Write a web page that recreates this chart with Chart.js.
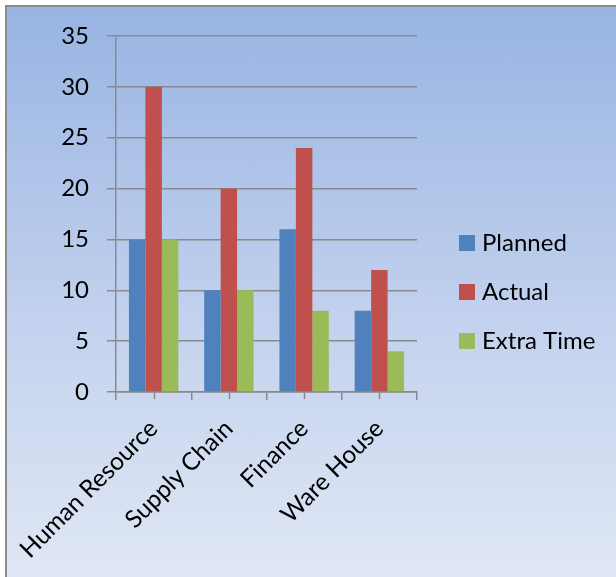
<!DOCTYPE html>
<html>
<head>
<meta charset="utf-8">
<script src="https://cdn.jsdelivr.net/npm/chart.js@4"></script>
<style>
  html, body { margin: 0; padding: 0; width: 616px; height: 577px; overflow: hidden; }
  #bg { position: absolute; left: 5px; top: 5px; width: 620px; height: 580px;
        border-left: 2px solid #8c8c8c; border-top: 2px solid #8c8c8c;
        background: linear-gradient(to bottom, #98B4E3 0%, #C3D2EE 55%, #E1E8F5 100%); }
  #wrap { position: absolute; left: 0; top: 0; width: 616px; height: 577px; }
</style>
</head>
<body>
<div id="bg"></div>
<div id="wrap"><canvas id="c" width="616" height="577"></canvas></div>
<script>
const categories = ["Human Resource", "Supply Chain", "Finance", "Ware House"];
const planned = [15, 10, 16, 8];
const actual = [30, 20, 24, 12];
const extraTime = [15, 10, 8, 4];
const seriesNames = ["Planned", "Actual", "Extra Time"];
const seriesColors = ["#4F81BD", "#C0504D", "#9BBB59"];

const FONT = "Lato";
const gridColor = "#8a8a8a";

const centerTicks = {
  id: "centerTicks",
  afterDraw(chart) {
    const x = chart.scales.x, ctx = chart.ctx;
    const y0 = chart.chartArea.bottom;
    ctx.save();
    ctx.strokeStyle = gridColor;
    ctx.lineWidth = 1.5;
    for (let i = 0; i < categories.length; i++) {
      const px = Math.round(x.getPixelForValue(i)) + 0.5;
      ctx.beginPath();
      ctx.moveTo(px, y0);
      ctx.lineTo(px, y0 + 7);
      ctx.stroke();
    }
    ctx.restore();
  }
};

const customLegend = {
  id: "customLegend",
  afterDraw(chart) {
    const ctx = chart.ctx;
    ctx.save();
    ctx.font = "24px " + FONT;
    ctx.textBaseline = "middle";
    ctx.textAlign = "left";
    chart.data.datasets.forEach((ds, i) => {
      const cy = 243 + i * 49;
      ctx.fillStyle = ds.backgroundColor;
      ctx.fillRect(459, cy - 8, 16, 16);
      ctx.fillStyle = "#000";
      ctx.fillText(ds.label, 482, cy);
    });
    ctx.restore();
  }
};

const seriesData = [planned, actual, extraTime];

new Chart(document.getElementById("c"), {
  type: "bar",
  data: {
    labels: categories,
    datasets: seriesData.map((d, i) => ({
      label: seriesNames[i],
      data: d,
      backgroundColor: seriesColors[i],
      borderWidth: 0,
      categoryPercentage: 0.656,
      barPercentage: 1.0
    }))
  },
  options: {
    responsive: false,
    animation: false,
    devicePixelRatio: 1,
    layout: { autoPadding: false, padding: { top: 36, right: 199, left: 0, bottom: 0 } },
    plugins: {
      legend: { display: false },
      tooltip: { enabled: false }
    },
    scales: {
      y: {
        min: 0, max: 35,
        ticks: { stepSize: 5, color: "#000", padding: 18, font: { family: FONT, size: 24 } },
        grid: { color: gridColor, lineWidth: 1.5, tickLength: 9 },
        border: { color: gridColor, width: 1.5 },
        afterFit(s) { s.width = 116; s.paddingTop = 0; s.paddingBottom = 0; }
      },
      x: {
        ticks: { color: "#000", maxRotation: 45, minRotation: 45, padding: 14, font: { family: FONT, size: 24.5 } },
        grid: { color: gridColor, lineWidth: 1.5, tickLength: 8, drawOnChartArea: false, offset: true },
        border: { color: gridColor, width: 1.5 },
        afterFit(s) { s.height = 185; s.paddingLeft = 0; s.paddingRight = 0; }
      }
    }
  },
  plugins: [centerTicks, customLegend]
});
</script>
</body>
</html>
